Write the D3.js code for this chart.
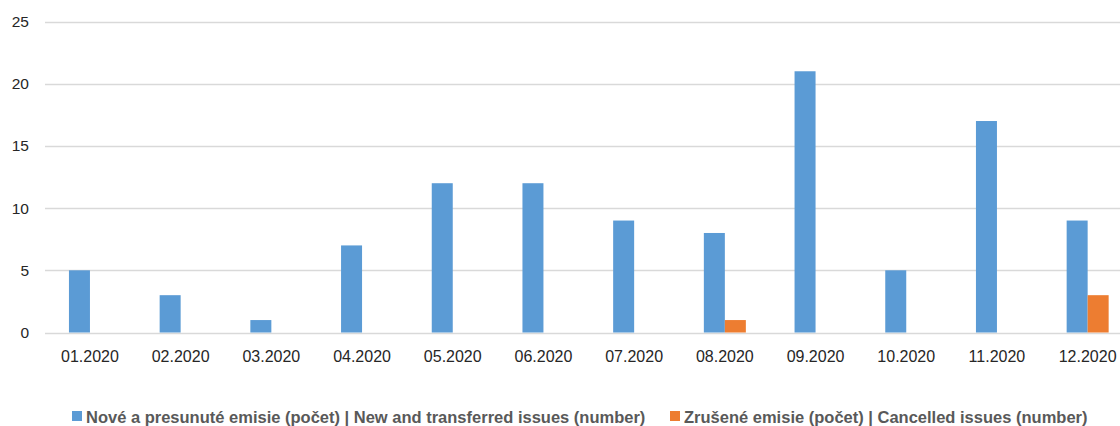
<!DOCTYPE html>
<html>
<head>
<meta charset="utf-8">
<script src="https://cdn.jsdelivr.net/npm/d3@7"></script>
<style>
  body { margin: 0; background: #fff; }
  svg { display: block; font-family: "Liberation Sans", Arial, sans-serif; }
</style>
</head>
<body>
<svg id="chart"></svg>
<script>
const months = ['01.2020', '02.2020', '03.2020', '04.2020', '05.2020', '06.2020',
                '07.2020', '08.2020', '09.2020', '10.2020', '11.2020', '12.2020'];
const newIssues = [5, 3, 1, 7, 12, 12, 9, 8, 21, 5, 17, 9];
const cancelledIssues = [0, 0, 0, 0, 0, 0, 0, 1, 0, 0, 0, 3];
const seriesNames = [
  'Nové a presunuté emisie (počet) | New and transferred issues (number)',
  'Zrušené emisie (počet) | Cancelled issues (number)'
];
const seriesColors = ['#5b9bd5', '#ed7d31'];
const yTicks = [0, 5, 10, 15, 20, 25];

const w = 1120, h = 426;
const svg = d3.select('#chart').attr('width', w).attr('height', h);

const x = d3.scaleBand()
    .domain(months)
    .range([44.6, 1133])
    .padding(0);

const y = d3.scaleLinear()
    .domain([0, 25])
    .range([332.5, 21.5]);

const groupW = x.bandwidth() * 0.463;
const xs = d3.scaleBand()
    .domain([0, 1])
    .range([0, groupW]);

// gridlines
svg.append('g')
  .selectAll('line')
  .data(yTicks)
  .enter()
  .append('line')
    .attr('x1', 45)
    .attr('x2', w)
    .attr('y1', d => Math.round(y(d)) + 0.5)
    .attr('y2', d => Math.round(y(d)) + 0.5)
    .attr('stroke', '#d9d9d9')
    .attr('stroke-width', 1.3);

// y labels
svg.append('g')
  .selectAll('text')
  .data(yTicks)
  .enter()
  .append('text')
    .attr('x', 29)
    .attr('y', d => y(d) + 5.5)
    .attr('text-anchor', 'end')
    .attr('font-size', 15.5)
    .attr('fill', '#262626')
    .text(d => d);

const rows = months.map((m, i) => [newIssues[i], cancelledIssues[i]]);

const groups = svg.append('g')
  .selectAll('g')
  .data(rows)
  .enter()
  .append('g')
    .attr('transform', (d, i) => 'translate(' + (x(months[i]) + (x.bandwidth() - groupW) / 2) + ',0)');

groups.selectAll('rect')
  .data(d => d.map((v, k) => ({ v, k })))
  .enter()
  .filter(d => d.v > 0)
  .append('rect')
    .attr('x', d => xs(d.k))
    .attr('y', d => y(d.v))
    .attr('width', xs.bandwidth())
    .attr('height', d => y(0) - y(d.v))
    .attr('fill', d => seriesColors[d.k]);

// x labels
svg.append('g')
  .selectAll('text')
  .data(months)
  .enter()
  .append('text')
    .attr('x', d => x(d) + x.bandwidth() / 2)
    .attr('y', 362)
    .attr('text-anchor', 'middle')
    .attr('font-size', 16)
    .attr('fill', '#262626')
    .text(d => d);

// legend
const legendX = [72, 670];
const legend = svg.append('g')
  .selectAll('g')
  .data(seriesNames)
  .enter()
  .append('g')
    .attr('transform', (d, i) => 'translate(' + legendX[i] + ',0)');

legend.append('rect')
  .attr('x', 0)
  .attr('y', 411)
  .attr('width', 10)
  .attr('height', 10)
  .attr('fill', (d, i) => seriesColors[i]);

legend.append('text')
  .attr('x', 14)
  .attr('y', 423)
  .attr('font-size', 16.5)
  .attr('font-weight', 'bold')
  .attr('fill', '#595959')
  .text(d => d);
</script>
</body>
</html>
